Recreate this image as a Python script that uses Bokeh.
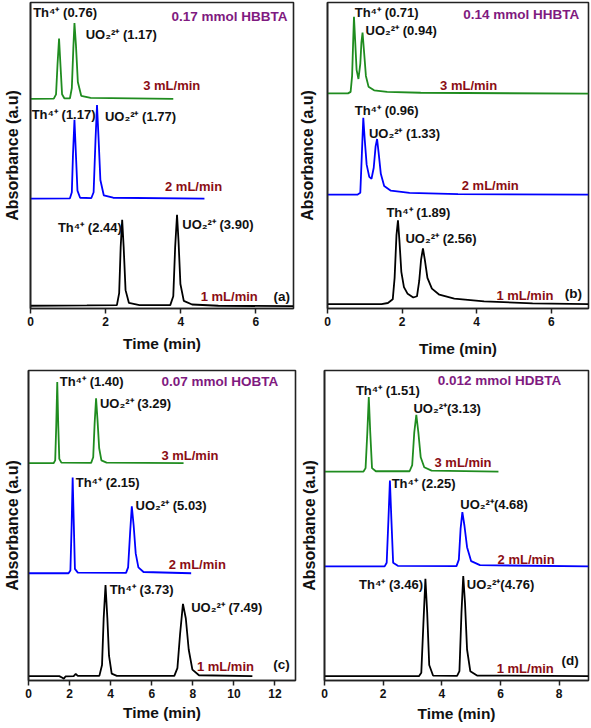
from bokeh.plotting import figure
from bokeh.layouts import column, row
from bokeh.models import Range1d, FixedTicker
from bokeh.core.properties import value
from bokeh.embed import file_html
from bokeh.resources import INLINE

# ---------------- data (time in min, absorbance in arbitrary offset units) -------------
# panel (a) 0.17 mmol HBBTA
a_x_3 = [0, 0.62, 0.68, 0.72, 0.76, 0.80, 0.84, 0.90, 1.05, 1.10, 1.14, 1.17, 1.21, 1.26, 1.35, 1.6, 3.8]
a_y_3 = [68.5, 68.6, 70, 80, 88.2, 79, 70, 68.7, 68.7, 72, 85, 93.3, 86, 74, 69.5, 68.8, 68.5]
a_x_2 = [0, 1.05, 1.10, 1.13, 1.17, 1.21, 1.25, 1.32, 1.62, 1.68, 1.73, 1.77, 1.81, 1.86, 1.95, 2.2, 4.63]
a_y_2 = [35.9, 36, 38, 50, 61.7, 50, 38.5, 36.2, 36.1, 38, 55, 66.5, 56, 42, 37, 36.2, 35.9]
a_x_1 = [0, 1.5, 2.30, 2.36, 2.40, 2.44, 2.48, 2.53, 2.62, 2.9, 3.72, 3.80, 3.85, 3.90, 3.94, 3.99, 4.08, 4.3, 5.0, 7]
a_y_1 = [0.9, 1.0, 1.1, 5, 20, 29.0, 20, 6, 1.8, 1.1, 1.1, 4, 20, 30.6, 22, 8, 2.5, 1.3, 0.9, 0.75]

# panel (b) 0.14 mmol HHBTA
b_x_3 = [0, 0.55, 0.62, 0.66, 0.69, 0.71, 0.74, 0.78, 0.83, 0.88, 0.91, 0.94, 0.98, 1.03, 1.1, 1.25, 1.6, 2.5, 7]
b_y_3 = [70.3, 70.3, 70.8, 76, 88, 95.3, 88, 78, 75, 80, 87, 90.2, 84, 76, 72.5, 71.3, 70.8, 70.5, 70.2]
b_x_2 = [0, 0.8, 0.88, 0.92, 0.96, 1.0, 1.05, 1.12, 1.18, 1.24, 1.29, 1.33, 1.37, 1.43, 1.52, 1.7, 2.2, 3.5, 7]
b_y_2 = [37.2, 37.2, 37.8, 50, 62.3, 55, 47, 43, 42.4, 46, 53, 55.4, 51, 44, 40, 38.5, 37.8, 37.4, 37.2]
b_x_1 = [0, 1.45, 1.62, 1.75, 1.80, 1.85, 1.89, 1.93, 1.98, 2.05, 2.15, 2.3, 2.4, 2.46, 2.51, 2.56,
         2.61, 2.68, 2.8, 3.0, 3.4, 4.2, 5.5, 7]
b_y_1 = [1.4, 1.4, 1.8, 3.0, 10, 24, 28.8, 22, 12, 7, 4.8, 3.6, 4, 9, 16, 19.6,
         16, 10, 6.5, 4.5, 3.2, 2.3, 1.7, 1.4]

# panel (c) 0.07 mmol HOBTA
c_x_3 = [0, 1.22, 1.30, 1.35, 1.40, 1.45, 1.50, 1.6, 3.05, 3.15, 3.22, 3.29, 3.36, 3.44, 3.55, 3.8, 7.55]
c_y_3 = [70.1, 70.1, 71, 82, 96.3, 82, 71.5, 70.3, 70.2, 72, 83, 91, 84, 75, 71, 70.3, 70.1]
c_x_2 = [0, 1.95, 2.04, 2.10, 2.15, 2.20, 2.26, 2.4, 4.75, 4.85, 4.95, 5.03, 5.12, 5.22, 5.35, 5.6, 7.92]
c_y_2 = [34.6, 34.6, 35.5, 50, 65.5, 52, 36, 34.8, 34.7, 36.5, 48, 56.2, 50, 41, 36.5, 35, 34.6]
c_x_1 = [0, 1.5, 1.65, 1.72, 1.8, 2.2, 2.3, 2.4, 3.45, 3.58, 3.66, 3.75, 3.84, 3.92, 4.05, 4.3,
         7.1, 7.25, 7.38, 7.52, 7.66, 7.8, 7.98, 8.3, 10.9]
c_y_1 = [1.4, 1.4, 0.9, 0.6, 1.3, 1.4, 2.1, 1.5, 1.5, 5, 20, 30.8, 20, 8, 2.2, 1.5,
         1.5, 4, 15, 24.7, 20, 10, 3.5, 1.7, 1.4]

# panel (d) 0.012 mmol HDBTA
d_x_3 = [0, 1.33, 1.40, 1.46, 1.51, 1.56, 1.62, 1.75, 2.9, 2.99, 3.06, 3.13, 3.20, 3.28, 3.40, 3.65, 5.93]
d_y_3 = [67.4, 67.4, 68.5, 80, 91.4, 80, 68.5, 67.5, 67.5, 69.5, 80, 85.7, 80, 72, 68.8, 67.7, 67.4]
d_x_2 = [0, 2.05, 2.12, 2.18, 2.23, 2.28, 2.34, 2.5, 4.5, 4.58, 4.64, 4.70, 4.77, 4.86, 5.0, 5.3, 9]
d_y_2 = [36.8, 36.8, 38, 52, 64.5, 52, 38, 37, 36.9, 39, 49, 54.3, 50, 43, 38.5, 37.2, 36.8]
d_x_1 = [0, 3.22, 3.30, 3.37, 3.44, 3.50, 3.57, 3.70, 4.52, 4.60, 4.67, 4.73, 4.79, 4.86, 4.97, 5.2, 9]
d_y_1 = [1.4, 1.4, 2.5, 18, 32.8, 22, 5, 1.6, 1.5, 3, 22, 33.7, 25, 10, 3, 1.6, 1.4]

# texts
a_peaks = ["Th\u2074\u207a (0.76)", "UO\u2082\u00b2\u207a (1.17)", "Th\u2074\u207a (1.17)",
           "UO\u2082\u00b2\u207a (1.77)", "Th\u2074\u207a (2.44)", "UO\u2082\u00b2\u207a (3.90)"]
b_peaks = ["Th\u2074\u207a (0.71)", "UO\u2082\u00b2\u207a (0.94)", "Th\u2074\u207a (0.96)",
           "UO\u2082\u00b2\u207a (1.33)", "Th\u2074\u207a (1.89)", "UO\u2082\u00b2\u207a (2.56)"]
c_peaks = ["Th\u2074\u207a (1.40)", "UO\u2082\u00b2\u207a (3.29)", "Th\u2074\u207a (2.15)",
           "UO\u2082\u00b2\u207a (5.03)", "Th\u2074\u207a (3.73)", "UO\u2082\u00b2\u207a (7.49)"]
d_peaks = ["Th\u2074\u207a (1.51)", "UO\u2082\u00b2\u207a(3.13)", "Th\u2074\u207a (2.25)",
           "UO\u2082\u00b2\u207a(4.68)", "Th\u2074\u207a (3.46)", "UO\u2082\u00b2\u207a(4.76)"]
flow_labels = ["3 mL/min", "2 mL/min", "1 mL/min"]
titles = ["0.17 mmol HBBTA", "0.14 mmol HHBTA", "0.07 mmol HOBTA", "0.012 mmol HDBTA"]
tags = ["(a)", "(b)", "(c)", "(d)"]
a_ticks = [0, 2, 4, 6]
b_ticks = [0, 2, 4, 6]
c_ticks = [0, 2, 4, 6, 8, 10, 12]
d_ticks = [0, 2, 4, 6, 8]
x_title = "Time (min)"
y_title = "Absorbance (a.u)"

FONT = value("Liberation Sans")
GREEN = "#1f8c1f"
BLUE = "#0000ff"
BLACK = "#000000"
RED = "#8b0d14"
PURPLE = "#7f1a80"
INK = "#111111"


def panel(w, h, xmax, ticks, curves, peak_txt, peak_pos, flow_pos, title, title_pos, tag, tag_pos,
          mb, ystand, xstand):
    p = figure(width=w, height=h, x_range=Range1d(0, xmax), y_range=Range1d(0, 100),
               output_backend="svg", toolbar_location=None,
               min_border_left=mb[0], min_border_right=mb[1], min_border_top=mb[2],
               min_border_bottom=mb[3])
    p.grid.visible = False
    p.outline_line_color = "#222222"
    p.outline_line_width = 1.6
    p.background_fill_color = "white"
    p.border_fill_color = "white"

    xa = p.xaxis[0]
    xa.ticker = FixedTicker(ticks=ticks)
    xa.minor_tick_line_color = None
    xa.major_tick_in = 0
    xa.major_tick_out = 5
    xa.major_tick_line_width = 1.5
    xa.axis_line_width = 1.6
    xa.axis_line_color = "#222222"
    xa.major_tick_line_color = "#222222"
    xa.major_label_text_font = "Liberation Sans"
    xa.major_label_text_font_style = "bold"
    xa.major_label_text_font_size = "12px"
    xa.major_label_text_color = INK
    xa.major_label_standoff = 3
    xa.axis_label = x_title
    xa.axis_label_text_font = "Liberation Sans"
    xa.axis_label_text_font_style = "bold"
    xa.axis_label_text_font_size = "15.5px"
    xa.axis_label_text_color = INK
    xa.axis_label_standoff = xstand

    ya = p.yaxis[0]
    ya.ticker = FixedTicker(ticks=[])
    ya.major_tick_out = 0
    ya.major_tick_in = 0
    ya.minor_tick_line_color = None
    ya.axis_line_width = 1.6
    ya.axis_line_color = "#222222"
    ya.axis_label = y_title
    ya.axis_label_text_font = "Liberation Sans"
    ya.axis_label_text_font_style = "bold"
    ya.axis_label_text_font_size = "16px"
    ya.axis_label_text_color = INK
    ya.axis_label_standoff = ystand

    for (xs, ys, col) in curves:
        p.line(xs, ys, line_color=col, line_width=1.8)

    p.text(x=[q[0] for q in peak_pos], y=[q[1] for q in peak_pos], text=peak_txt,
           text_font=FONT, text_font_style="bold", text_font_size="13px",
           text_color=INK, text_baseline="middle", text_align="left")
    p.text(x=[q[0] for q in flow_pos], y=[q[1] for q in flow_pos], text=flow_labels,
           text_font=FONT, text_font_style="bold", text_font_size="13px",
           text_color=RED, text_baseline="middle", text_align="left")
    p.text(x=[title_pos[0]], y=[title_pos[1]], text=[title],
           text_font=FONT, text_font_style="bold", text_font_size="13.5px",
           text_color=PURPLE, text_baseline="middle", text_align="left")
    p.text(x=[tag_pos[0]], y=[tag_pos[1]], text=[tag],
           text_font=FONT, text_font_style="bold", text_font_size="13.5px",
           text_color=INK, text_baseline="middle", text_align="left")
    return p


pa = panel(295, 362, 7, a_ticks,
           [(a_x_3, a_y_3, GREEN), (a_x_2, a_y_2, BLUE), (a_x_1, a_y_1, BLACK)],
           a_peaks,
           [(0.07, 96.6), (1.47, 89.6), (0.03, 63.3), (1.98, 62.8), (0.73, 26.5), (4.04, 27.4)],
           [(3.0, 73), (3.58, 39.9), (4.53, 3.8)],
           titles[0], (3.75, 95.5), tags[0], (6.47, 3.8),
           (27, 2, 2, 50), 10, 6)

pb = panel(296, 362, 7, b_ticks,
           [(b_x_3, b_y_3, GREEN), (b_x_2, b_y_2, BLUE), (b_x_1, b_y_1, BLACK)],
           b_peaks,
           [(0.73, 96.7), (1.02, 90.8), (0.73, 64.7), (1.11, 57.1), (1.58, 31.5), (2.09, 22.8)],
           [(3.02, 72.8), (3.6, 40.2), (4.53, 4.3)],
           titles[1], (3.64, 96.2), tags[1], (6.36, 4.9),
           (30, 3, 2, 54), 12, 11)

pc = panel(297, 366, 13, c_ticks,
           [(c_x_3, c_y_3, GREEN), (c_x_2, c_y_2, BLUE), (c_x_1, c_y_1, BLACK)],
           c_peaks,
           [(1.52, 96.3), (3.48, 89.4), (2.3, 63.9), (5.21, 56.5), (3.95, 29.5), (7.92, 23.6)],
           [(6.47, 72.7), (6.83, 37.4), (8.2, 4.6)],
           titles[2], (6.47, 96.3), tags[2], (11.92, 5.1),
           (26, 2, 8, 44), 8, 3)

pd_ = panel(294, 366, 9, d_ticks,
            [(d_x_3, d_y_3, GREEN), (d_x_2, d_y_2, BLUE), (d_x_1, d_y_1, BLACK)],
            d_peaks,
            [(1.07, 93.5), (3.03, 87.8), (2.29, 63.4), (4.63, 56.7), (1.18, 30.9), (4.85, 30.9)],
            [(3.75, 70.4), (5.9, 39), (5.87, 3.8)],
            titles[3], (3.86, 96.8), tags[3], (8.08, 6.5),
            (27, 3, 8, 48), 7, 4)

layout = column(row(pa, pb), row(pc, pd_))
open("out.html", "w").write(file_html(layout, INLINE))
